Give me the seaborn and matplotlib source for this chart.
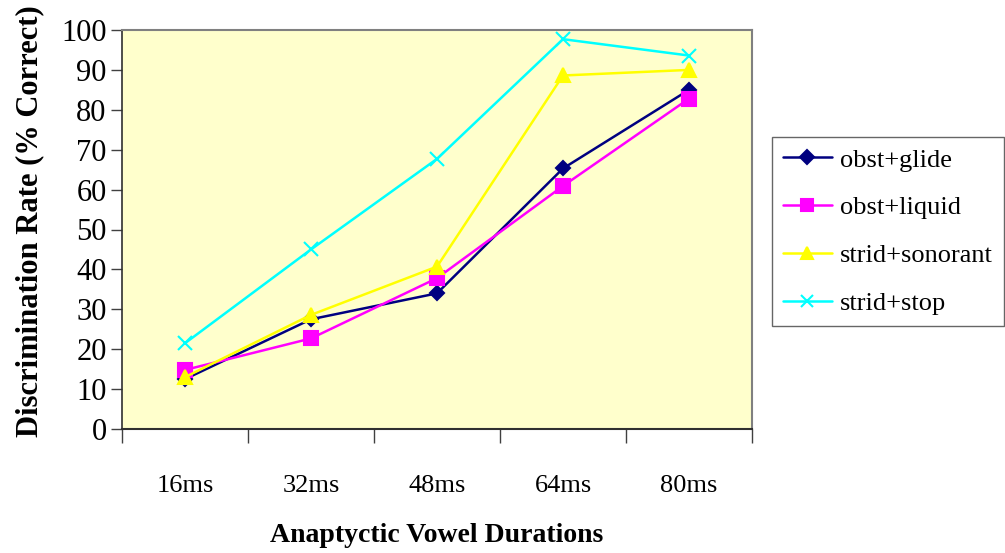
import matplotlib
matplotlib.use("Agg")
import matplotlib.pyplot as plt
import seaborn as sns
import pandas as pd
import numpy as np
from matplotlib.ticker import FixedLocator, NullFormatter, FixedFormatter
from matplotlib.lines import Line2D

durations = ["16ms", "32ms", "48ms", "64ms", "80ms"]
series_names = ["obst+glide", "obst+liquid", "strid+sonorant", "strid+stop"]
obst_glide = [12.5, 27.5, 34.0, 65.3, 85.0]
obst_liquid = [14.8, 22.7, 37.8, 60.9, 82.8]
strid_sonorant = [13.0, 28.6, 40.7, 88.6, 90.0]
strid_stop = [21.5, 45.0, 67.7, 97.7, 93.6]

values = [obst_glide, obst_liquid, strid_sonorant, strid_stop]
rows = []
for name, vals in zip(series_names, values):
    for i, (d, v) in enumerate(zip(durations, vals)):
        rows.append({"pos": i, "duration": d, "series": name, "value": v})
df = pd.DataFrame(rows)

sns.set_theme(style="white")
plt.rcParams['font.family'] = ['Liberation Serif', 'DejaVu Serif']
plt.rcParams['text.color'] = 'black'
plt.rcParams['xtick.color'] = 'black'
plt.rcParams['ytick.color'] = 'black'

fig = plt.figure(figsize=(10.05, 5.53), dpi=100)
ax = fig.add_axes([122/1005, 1-429/553, (752-122)/1005, (429-30)/553])
ax.set_facecolor("#FFFFCC")

palette = {"obst+glide": "#000080", "obst+liquid": "#FF00FF",
           "strid+sonorant": "#FFFF00", "strid+stop": "#00FFFF"}
markers = {"obst+glide": "D", "obst+liquid": "s",
           "strid+sonorant": "^", "strid+stop": "x"}
msizes = {"obst+glide": 7.5, "obst+liquid": 9.5, "strid+sonorant": 10, "strid+stop": 10}

for name in series_names:
    sub = df[df["series"] == name]
    sns.lineplot(data=sub, x="pos", y="value", color=palette[name],
                 marker=markers[name], markersize=msizes[name],
                 markerfacecolor=palette[name], markeredgecolor=palette[name],
                 markeredgewidth=1.5, linewidth=1.8, ax=ax, legend=False)

ax.set_xlim(-0.5, 4.5)
ax.set_ylim(0, 100)
ax.set_yticks(np.arange(0, 101, 10))
ax.xaxis.set_major_locator(FixedLocator(np.arange(-0.5, 4.6, 1.0)))
ax.xaxis.set_major_formatter(NullFormatter())
ax.xaxis.set_minor_locator(FixedLocator(np.arange(0, 5)))
ax.xaxis.set_minor_formatter(FixedFormatter(durations))
ax.tick_params(axis='x', which='major', direction='out', length=10, width=1, color='#404040', bottom=True)
ax.tick_params(axis='x', which='minor', length=0, pad=33, labelsize=19, labelcolor='black')
ax.tick_params(axis='y', which='major', direction='out', length=8, width=1, color='#404040', left=True,
               labelsize=22, pad=3, labelcolor='black')

for s in ["top", "right"]:
    ax.spines[s].set_color("#808080")
    ax.spines[s].set_linewidth(1.5)
ax.spines["left"].set_color("#303030")
ax.spines["bottom"].set_color("#303030")
ax.spines["left"].set_linewidth(1.2)
ax.spines["bottom"].set_linewidth(1.5)

ax.set_xlabel("Anaptyctic Vowel Durations", fontsize=20, fontweight="bold", labelpad=19, color='black')
ax.set_ylabel("Discrimination Rate (% Correct)", fontsize=22, fontweight="bold", color='black')
ax.yaxis.set_label_coords(-0.124, 0.52)

handles = [Line2D([0], [0], color=palette[n], marker=markers[n], markersize=msizes[n] * 0.9,
                  markerfacecolor=palette[n], markeredgecolor=palette[n], markeredgewidth=1.5, linewidth=1.8)
           for n in series_names]
leg = fig.legend(handles, series_names, loc="upper left",
                 bbox_to_anchor=(772/1005, 1-137/553), frameon=True, fancybox=False,
                 edgecolor="#404040", fontsize=19, handlelength=1.85, labelspacing=0.92,
                 borderpad=0.42, handletextpad=0.3, borderaxespad=0)
leg.get_frame().set_linewidth(1.0)
for t in leg.get_texts():
    t.set_color('black')

fig.savefig("out.png", dpi=100)
